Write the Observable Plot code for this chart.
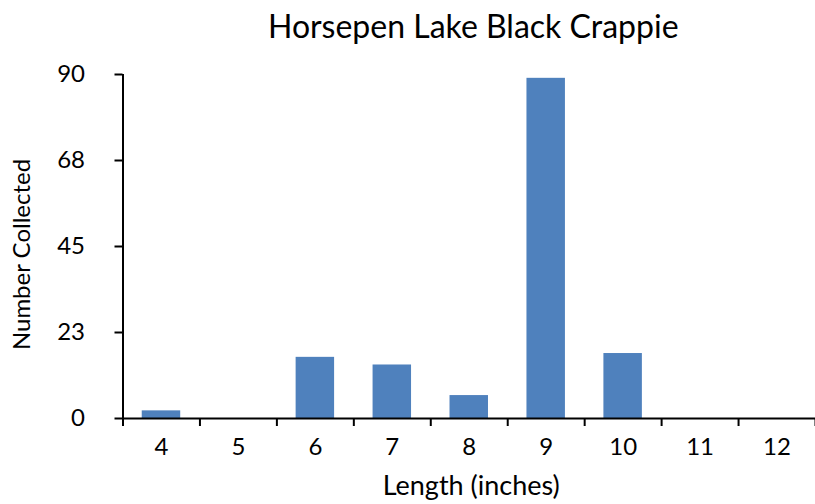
<!DOCTYPE html>
<html><head><meta charset="utf-8">
<script src="https://cdn.jsdelivr.net/npm/d3@7"></script>
<script src="https://cdn.jsdelivr.net/npm/@observablehq/plot@0.6"></script>
<style>
body{margin:0;background:#fff;}
#chart svg{display:block;}
</style>
</head><body><div id="chart"></div>
<script>
const title = "Horsepen Lake Black Crappie";
const xLabel = "Length (inches)";
const yLabel = "Number Collected";
const lengths = [4, 5, 6, 7, 8, 9, 10, 11, 12];
const counts = [2, 0, 16, 14, 6, 89, 17, 0, 0];
const yTicks = [0, 22.5, 45, 67.5, 90];
const yTickLabels = ["0", "23", "45", "68", "90"];

const data = lengths.map((len, i) => ({len, count: counts[i]}));
const xDomain = [lengths[0] - 0.5, lengths[lengths.length - 1] + 0.5];
const boundaries = lengths.map(d => d - 0.5).concat([lengths[lengths.length - 1] + 0.5]);
const font = "Lato, 'Open Sans', sans-serif";

const chart = Plot.plot({
  width: 815,
  height: 504,
  marginLeft: 122.5,
  marginRight: 0,
  marginTop: 74,
  marginBottom: 86,
  style: {fontFamily: font, fontSize: "24px", color: "#000", background: "#fff"},
  x: {domain: xDomain, axis: null},
  y: {domain: [0, 90], axis: null},
  marks: [
    Plot.rectY(data, {x1: d => d.len - 0.25, x2: d => d.len + 0.25, y1: 0, y2: "count", fill: "#4F81BD"}),
    Plot.axisY({ticks: yTicks, tickFormat: (d, i) => yTickLabels[i], tickSize: 8, tickPadding: 30, strokeWidth: 2, stroke: "#000", fill: "#000", fontSize: 24, label: null}),
    Plot.axisX({ticks: boundaries, tickSize: 8, tickFormat: () => "", strokeWidth: 2, stroke: "#000", label: null}),
    Plot.axisX({ticks: lengths, tickSize: 0, tickPadding: 19, fontSize: 24, fill: "#000", label: null}),
    Plot.ruleY([0], {stroke: "#000", strokeWidth: 2}),
    Plot.ruleX([xDomain[0]], {stroke: "#000", strokeWidth: 2}),
    Plot.text([title], {frameAnchor: "top", dx: 4, dy: -47, fontSize: 32, fill: "#000", lineAnchor: "middle"}),
    Plot.text([xLabel], {frameAnchor: "bottom", dx: 2, dy: 76, fontSize: 27, fill: "#000"}),
    Plot.text([yLabel], {frameAnchor: "left", textAnchor: "middle", dx: -101, dy: 8, rotate: -90, fontSize: 24, fill: "#000"})
  ]
});
document.getElementById("chart").appendChild(chart);
</script>
</body></html>
